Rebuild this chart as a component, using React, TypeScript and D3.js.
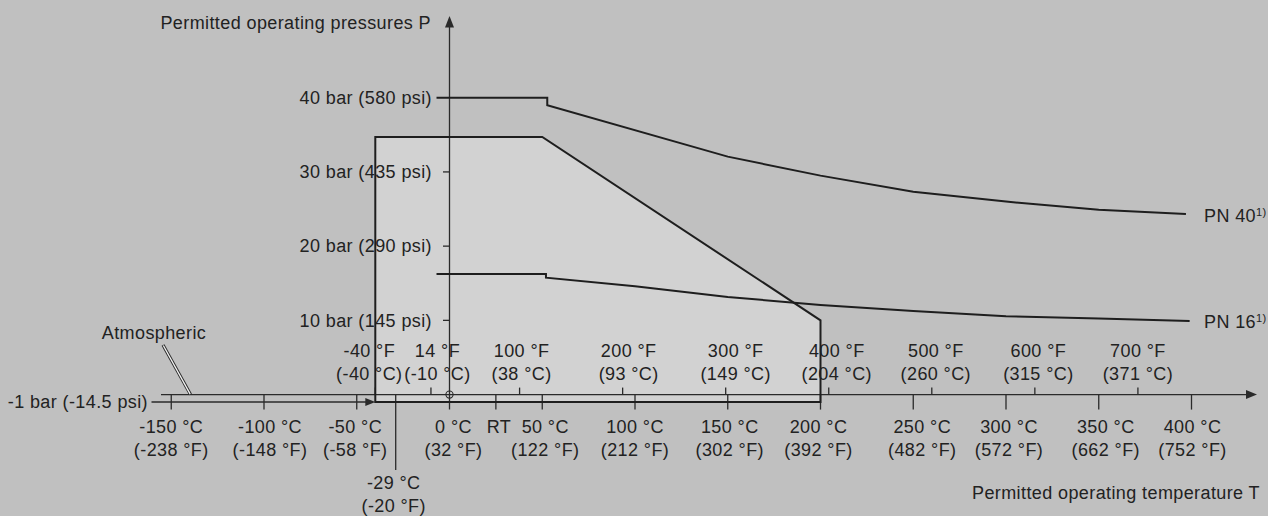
import React from "react";
import * as d3 from "d3";

// ---------- data ----------
const pressureTicks = [10, 20, 30, 40];
const pressureLabels = ["10 bar (145 psi)", "20 bar (290 psi)", "30 bar (435 psi)", "40 bar (580 psi)"];
const atmPressure = -1;
const atmLabel = "-1 bar (-14.5 psi)";

const celsiusTicks = [-150, -100, -50, 0, 50, 100, 150, 200, 250, 300, 350, 400];
const celsiusLabels = ["-150 °C", "-100 °C", "-50 °C", "0 °C", "50 °C", "100 °C", "150 °C", "200 °C", "250 °C", "300 °C", "350 °C", "400 °C"];
const celsiusSubLabels = ["(-238 °F)", "(-148 °F)", "(-58 °F)", "(32 °F)", "(122 °F)", "(212 °F)", "(302 °F)", "(392 °F)", "(482 °F)", "(572 °F)", "(662 °F)", "(752 °F)"];

const fahrenheitTicks = [-40, 14, 100, 200, 300, 400, 500, 600, 700];
const fahrenheitLabels = ["-40 °F", "14 °F", "100 °F", "200 °F", "300 °F", "400 °F", "500 °F", "600 °F", "700 °F"];
const fahrenheitSubLabels = ["(-40 °C)", "(-10 °C)", "(38 °C)", "(93 °C)", "(149 °C)", "(204 °C)", "(260 °C)", "(315 °C)", "(371 °C)"];

const rtTemp = 25;
const minTemp = -29;
const minTempLabels = ["-29 °C", "(-20 °F)"];

// shaded permitted region (temperature °C, pressure bar)
const regionT = [-40, -40, 50, 200, 200];
const regionP = [-1, 34.7, 34.7, 10, -1];

// PN 40 rating curve
const pn40T = [-7, 52.7, 52.7, 150, 200, 250, 300, 350, 397];
const pn40P = [40, 40, 39.0, 32.06, 29.5, 27.34, 26.0, 24.9, 24.34];
// PN 16 rating curve
const pn16T = [-7, 52, 52, 100, 150, 200, 250, 300, 350, 399];
const pn16P = [16.25, 16.25, 15.75, 14.6, 13.15, 12.07, 11.25, 10.55, 10.25, 9.92];

// ---------- layout ----------
const W = 1268;
const H = 516;
const FONT = "'Liberation Sans', Arial, Helvetica, sans-serif";
const FS = 18;
const LS = 0.4;
const TXT = "#222";
const LINE = "#1e1e1e";
const BG = "#c0c0c0";
const FILL = "#d2d2d2";

// label nudges (px) to match the original drawing
const celsiusNudge = [0, 6, -1.5, 4, 3, 0, 2, -2, 9, 3, 7, 1];
const fahrenheitNudge = [-6, 6.5, 2, 6, 10, 8, 4, 3.5, 0];

const fToC = (f: number) => ((f - 32) * 5) / 9;

export default function App() {
  const x = d3.scaleLinear().domain([0, 400]).range([449.5, 1191.5]);
  const y = d3.scaleLinear().domain([-1, 40]).range([402, 97.7]);
  const y0 = y(0);
  const yAtm = y(atmPressure);
  const xAxis = x(0);

  const line = d3
    .line<[number, number]>()
    .x((d) => x(d[0]))
    .y((d) => y(d[1]));

  const region = regionT.map((t, i) => [t, regionP[i]] as [number, number]);
  const pn40 = pn40T.map((t, i) => [t, pn40P[i]] as [number, number]);
  const pn16 = pn16T.map((t, i) => [t, pn16P[i]] as [number, number]);

  const txt = (props: any, content: any, key?: any) => (
    <text
      key={key}
      fontFamily={FONT}
      fontSize={FS}
      letterSpacing={LS}
      fill={TXT}
      {...props}
    >
      {content}
    </text>
  );

  const bl = (c: number) => c + 6.3; // baseline from visual center

  const axisStroke = "#2a2a2a";
  const tickTop = y0 - 7;
  const tickBottom = y0 + 15;
  const rightArrowTip = 1257;

  return (
    <svg
      width={W}
      height={H}
      viewBox={`0 0 ${W} ${H}`}
      style={{ position: "absolute", left: 0, top: 0, display: "block" }}
    >
      <rect x={0} y={0} width={W} height={H} fill={BG} />

      {/* shaded region fill */}
      <path d={line(region) + "Z"} fill={FILL} stroke="none" />

      {/* y-axis title */}
      {txt({ x: 431, y: bl(23), textAnchor: "end" }, "Permitted operating pressures P")}
      {/* x-axis title */}
      {txt({ x: 1260, y: bl(493), textAnchor: "end" }, "Permitted operating temperature T")}

      {/* pressure labels */}
      {pressureTicks.map((p, i) =>
        txt({ x: 432, y: bl(y(p)), textAnchor: "end" }, pressureLabels[i], "pl" + i)
      )}
      {txt({ x: 148, y: bl(yAtm), textAnchor: "end" }, atmLabel)}

      {/* Atmospheric */}
      {txt({ x: 154, y: bl(333), textAnchor: "middle" }, "Atmospheric")}

      {/* celsius labels */}
      {celsiusTicks.map((c, i) => (
        <g key={"cl" + i}>
          {txt({ x: x(c) + celsiusNudge[i], y: bl(427), textAnchor: "middle" }, celsiusLabels[i])}
          {txt({ x: x(c) + celsiusNudge[i], y: bl(450), textAnchor: "middle" }, celsiusSubLabels[i])}
        </g>
      ))}
      {txt({ x: x(rtTemp) + 3, y: bl(427), textAnchor: "middle" }, "RT")}

      {/* fahrenheit labels */}
      {fahrenheitTicks.map((f, i) => (
        <g key={"fl" + i}>
          {txt({ x: x(fToC(f)) + fahrenheitNudge[i], y: bl(351), textAnchor: "middle" }, fahrenheitLabels[i])}
          {txt({ x: x(fToC(f)) + fahrenheitNudge[i], y: bl(374), textAnchor: "middle" }, fahrenheitSubLabels[i])}
        </g>
      ))}

      {/* -29 °C */}
      {txt({ x: x(minTemp) - 2, y: bl(483), textAnchor: "middle" }, minTempLabels[0])}
      {txt({ x: x(minTemp) - 2, y: bl(506), textAnchor: "middle" }, minTempLabels[1])}

      {/* PN labels */}
      <text x={1204} y={221.5} fontFamily={FONT} fontSize={FS} letterSpacing={LS} fill={TXT}>
        PN 40
        <tspan fontSize={11} dy={-5.5} letterSpacing={0.3}>1)</tspan>
      </text>
      <text x={1204} y={327.5} fontFamily={FONT} fontSize={FS} letterSpacing={LS} fill={TXT}>
        PN 16
        <tspan fontSize={11} dy={-5.5} letterSpacing={0.3}>1)</tspan>
      </text>

      {/* zero-pressure axis line with arrow */}
      <line x1={161} y1={y0} x2={rightArrowTip - 8} y2={y0} stroke={axisStroke} strokeWidth={1.4} />
      <path
        d={`M${rightArrowTip},${y0} L${rightArrowTip - 11},${y0 - 4.5} L${rightArrowTip - 11},${y0 + 4.5} Z`}
        fill={axisStroke}
      />

      {/* -1 bar line with arrow to region */}
      <line x1={151.5} y1={yAtm} x2={x(-40) - 6} y2={yAtm} stroke={axisStroke} strokeWidth={1.4} />
      <path
        d={`M${x(-40)},${yAtm} L${x(-40) - 10},${yAtm - 4} L${x(-40) - 10},${yAtm + 4} Z`}
        fill={axisStroke}
      />

      {/* y axis with arrow */}
      <line x1={xAxis} y1={tickBottom} x2={xAxis} y2={27} stroke={axisStroke} strokeWidth={1.3} />
      <path d={`M${xAxis},16 L${xAxis - 4.5},27.5 L${xAxis + 4.5},27.5 Z`} fill={axisStroke} />

      {/* pressure ticks */}
      {pressureTicks
        .filter((p) => p !== 40)
        .map((p, i) => (
          <line key={"pt" + i} x1={443} y1={y(p)} x2={xAxis} y2={y(p)} stroke={axisStroke} strokeWidth={1.3} />
        ))}

      {/* celsius ticks */}
      {celsiusTicks
        .filter((c) => c !== 0)
        .map((c, i) => (
          <line key={"ct" + i} x1={x(c)} y1={y0} x2={x(c)} y2={tickBottom} stroke={axisStroke} strokeWidth={1.3} />
        ))}
      <line x1={x(rtTemp)} y1={y0} x2={x(rtTemp)} y2={tickBottom} stroke={axisStroke} strokeWidth={1.3} />
      <line x1={x(minTemp)} y1={y0} x2={x(minTemp)} y2={470} stroke={axisStroke} strokeWidth={1.3} />

      {/* fahrenheit ticks */}
      {fahrenheitTicks.map((f, i) => (
        <line
          key={"ft" + i}
          x1={x(fToC(f))}
          y1={tickTop}
          x2={x(fToC(f))}
          y2={y0}
          stroke={axisStroke}
          strokeWidth={1.3}
        />
      ))}

      {/* origin circle */}
      <circle cx={xAxis} cy={y0} r={3.6} fill="none" stroke={axisStroke} strokeWidth={1.1} />

      {/* atmospheric leader */}
      <line x1={163} y1={345} x2={190.5} y2={y0} stroke="#2a2a2a" strokeWidth={3.2} />
      <line x1={163.3} y1={345.5} x2={190.2} y2={y0 - 0.5} stroke="#f4f4f4" strokeWidth={1.3} />

      {/* shaded region outline */}
      <path d={line(region) + "Z"} fill="none" stroke={LINE} strokeWidth={2} strokeLinejoin="miter" />

      {/* rating curves */}
      <path d={line(pn40) ?? ""} fill="none" stroke={LINE} strokeWidth={2} />
      <path d={line(pn16) ?? ""} fill="none" stroke={LINE} strokeWidth={2} />
    </svg>
  );
}
